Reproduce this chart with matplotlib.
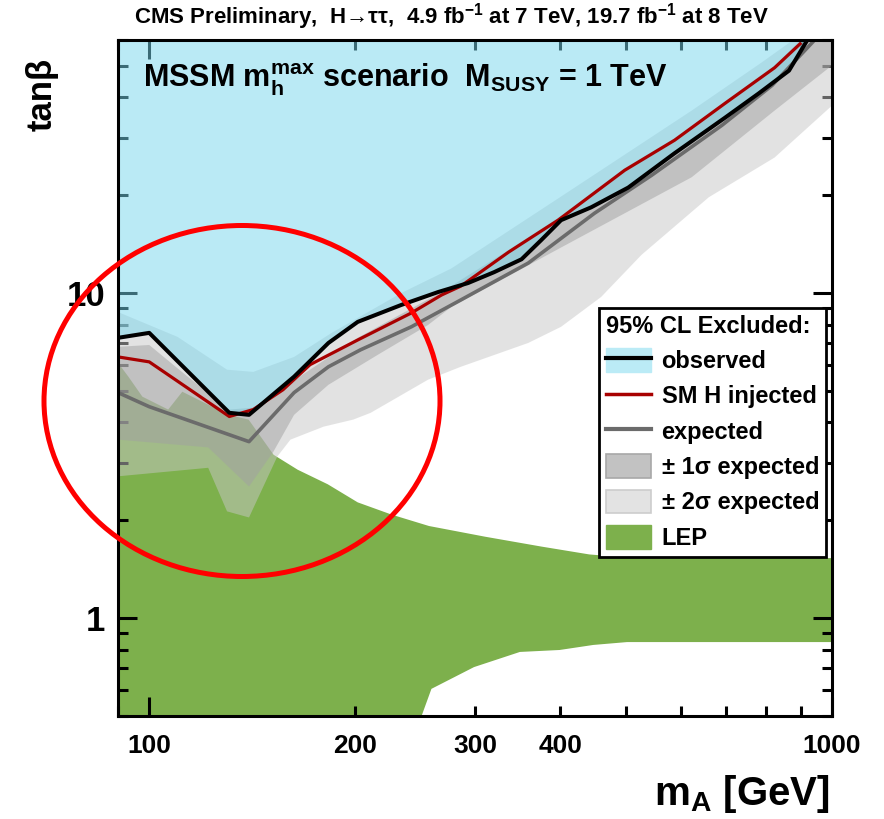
import numpy as np
import matplotlib
matplotlib.use('Agg')
import matplotlib.pyplot as plt
from matplotlib.patches import Patch, Ellipse
from matplotlib.lines import Line2D
from matplotlib.ticker import FixedLocator, FixedFormatter, FuncFormatter, NullFormatter

FAM = ['Liberation Sans Narrow', 'Liberation Sans', 'DejaVu Sans']
plt.rcParams['font.family'] = FAM
plt.rcParams['font.weight'] = 'bold'
plt.rcParams['mathtext.default'] = 'regular'

# --- datos (mA en GeV, tan beta) ---
mA_obs = [90, 100, 131, 140, 163, 183, 202, 234, 265, 293, 320, 351, 375, 401, 444, 503, 588, 697, 781, 865, 919]
tb_obs = [7.28, 7.54, 4.28, 4.22, 5.53, 7.02, 8.15, 9.19, 10.07, 10.73, 11.59, 12.70, 14.54, 16.75, 18.35, 21.1,
          26.9, 34.6, 41.1, 48.3, 59.7]

mA_inj = [90, 100, 131, 142, 157, 172, 202, 242, 268, 286, 336, 397, 497, 588, 697, 824, 898]
tb_inj = [6.36, 6.14, 4.17, 4.38, 5.04, 6.02, 7.17, 8.68, 9.86, 10.50, 13.36, 16.75, 23.85, 29.5, 38.3, 49.3, 58.4]

mA_exp = [90, 100, 140, 163, 183, 204, 242, 286, 359, 449, 544, 690, 817, 941]
tb_exp = [4.94, 4.47, 3.49, 4.94, 5.93, 6.69, 7.87, 9.52, 12.36, 17.6, 23.0, 32.8, 43.5, 59.7]

mA_1s_up = [90, 100, 113, 131, 142, 157, 202, 268, 336, 397, 497, 588, 697, 824, 898, 1000]
tb_1s_up = [6.83, 6.92, 5.60, 4.38, 4.44, 5.11, 7.28, 10.07, 13.55, 17.0, 24.2, 29.9, 38.8, 50.1, 59.7, 71.2]
mA_1s_lo = [90, 122, 140, 152, 163, 183, 216, 256, 277, 401, 623, 824, 990, 1000]
tb_1s_lo = [3.54, 3.35, 2.54, 3.25, 4.22, 5.22, 6.45, 7.97, 9.06, 13.8, 22.7, 36.4, 49.3, 50.4]

mA_2s_up = [90, 110, 130, 142, 163, 185, 234, 277, 401, 623, 789, 874, 1000]
tb_2s_up = [8.74, 7.33, 5.81, 5.72, 6.36, 7.54, 10.0, 11.9, 19.8, 36.4, 51.2, 59.7, 73.8]
mA_2s_lo = [90, 122, 130, 140, 154, 161, 180, 199, 211, 256, 286, 359, 401, 459, 526, 660, 824, 1000]
tb_2s_lo = [2.73, 2.90, 2.13, 2.04, 3.14, 3.54, 3.88, 4.08, 4.28, 5.41, 5.93, 7.02, 7.87, 9.72, 13.1, 19.7, 26.1, 37.7]

mA_lep_up = [90, 93.2, 97.7, 106.6, 111.8, 130.6, 139.8, 152.1, 165, 182.6, 202, 226.7, 256.9, 310.4, 375.2,
             441.1, 513.5, 1000]
tb_lep_up = [6.10, 5.53, 4.80, 4.38, 4.97, 4.22, 4.08, 3.18, 2.86, 2.58, 2.27, 2.08, 1.92, 1.78, 1.66,
             1.57, 1.53, 1.53]
mA_lep_lo = [90, 246, 259, 299, 349, 399, 447, 501, 1000]
tb_lep_lo = [0.45, 0.45, 0.606, 0.707, 0.787, 0.798, 0.827, 0.844, 0.844]

xticks_major = [100, 1000]
xticks_minor = [90, 200, 300, 400, 500, 600, 700, 800, 900]
xticks_minor_lab = [200, 300, 400]
yticks_major = [1, 10]
yticks_minor = [0.5, 0.6, 0.7, 0.8, 0.9, 2, 3, 4, 5, 6, 7, 8, 9, 20, 30, 40, 50, 60]

c_blue = '#77d7ed'
c_green = '#7db04c'

fig = plt.figure(figsize=(8.84, 8.19), dpi=100)
ax = fig.add_axes([118/884, 103/819, 714/884, 676/819])
ax.set_xscale('log')
ax.set_yscale('log')

# LEP
ax.fill(mA_lep_up + mA_lep_lo[::-1], tb_lep_up + tb_lep_lo[::-1], color=c_green, lw=0, zorder=1)
# bandas
ax.fill(mA_2s_up + mA_2s_lo[::-1], tb_2s_up + tb_2s_lo[::-1], color='#c7c7c7', alpha=0.5, lw=0, zorder=2)
ax.fill(mA_1s_up + mA_1s_lo[::-1], tb_1s_up + tb_1s_lo[::-1], color='#a1a1a1', alpha=0.5, lw=0, zorder=3)
# observado
ax.fill_between(mA_obs, tb_obs, 100, color=c_blue, alpha=0.5, lw=0, zorder=4)

ax.plot(mA_exp, tb_exp, color='#6b6b6b', lw=2.6, zorder=5)
ax.plot(mA_inj, tb_inj, color='#a80000', lw=2.3, zorder=6)
ax.plot(mA_obs, tb_obs, color='black', lw=2.9, zorder=7)

ax.set_xlim(90, 1000)
ax.set_ylim(0.5, 60)

ax.xaxis.set_major_locator(FixedLocator(xticks_major))
ax.xaxis.set_major_formatter(FixedFormatter([str(v) for v in xticks_major]))
ax.xaxis.set_minor_locator(FixedLocator(xticks_minor))
ax.xaxis.set_minor_formatter(FuncFormatter(lambda v, p: f'{v:.0f}' if round(v) in xticks_minor_lab else ''))
ax.yaxis.set_major_locator(FixedLocator(yticks_major))
ax.yaxis.set_major_formatter(FixedFormatter([str(v) for v in yticks_major]))
ax.yaxis.set_minor_locator(FixedLocator(yticks_minor))
ax.yaxis.set_minor_formatter(NullFormatter())

ax.tick_params(which='both', direction='in', top=True, right=True, width=2.2, colors='black')
ax.tick_params(which='major', length=14)
ax.tick_params(which='minor', length=7)
ax.tick_params(axis='x', which='both', labelsize=19, pad=13)
ax.tick_params(axis='y', which='both', labelsize=25, pad=9)
for s in ax.spines.values():
    s.set_linewidth(2.2)
    s.set_zorder(8)

fig.text(0.511, 1 - 17/819, 'CMS Preliminary,  H→ττ,  4.9 fb$^{-1}$ at 7 TeV, 19.7 fb$^{-1}$ at 8 TeV',
         ha='center', va='center', fontsize=16, fontweight='bold')
ax.text(0.035, 0.929, r'MSSM m$_h^{max}$ scenario  M$_{SUSY}$ = 1 TeV', transform=ax.transAxes,
        ha='left', va='baseline', fontsize=22, fontweight='bold', zorder=9)
fig.text(42/884, 1 - 58/819, 'tanβ', rotation=90, ha='center', va='top', fontsize=25, fontweight='bold')
fig.text(830/884, 1 - 805/819, r'm$_A$ [GeV]', ha='right', va='baseline', fontsize=29, fontweight='bold')

handles = [
    (Patch(facecolor='#bbebf6', edgecolor='#bbebf6'), Line2D([], [], color='black', lw=3)),
    Line2D([], [], color='#a80000', lw=2.5),
    Line2D([], [], color='#6b6b6b', lw=3),
    Patch(facecolor='#c2c2c2', edgecolor='#a8a8a8', lw=1.2),
    Patch(facecolor='#e3e3e3', edgecolor='#cdcdcd', lw=1.2),
    Patch(facecolor=c_green, edgecolor=c_green),
]
labels = ['observed', 'SM H injected', 'expected', '± 1σ expected', '± 2σ expected', 'LEP']
leg = ax.legend(handles, labels, loc='upper right', bbox_to_anchor=(0.992, 0.604), borderaxespad=0,
                title='95% CL Excluded:', title_fontproperties={'weight': 'bold', 'size': 17},
                alignment='left', prop={'weight': 'bold', 'size': 17}, fancybox=False, framealpha=1,
                edgecolor='black', handlelength=1.9, handleheight=1.15, handletextpad=0.45,
                labelspacing=0.45, borderpad=0.3)
leg.get_frame().set_linewidth(2.0)
leg.set_zorder(10)

fig.add_artist(Ellipse((242/884, 1 - 401/819), 396/884, 351/819, transform=fig.transFigure,
                       fill=False, edgecolor='red', lw=3.6, zorder=20))

plt.savefig('out.png', dpi=100)
